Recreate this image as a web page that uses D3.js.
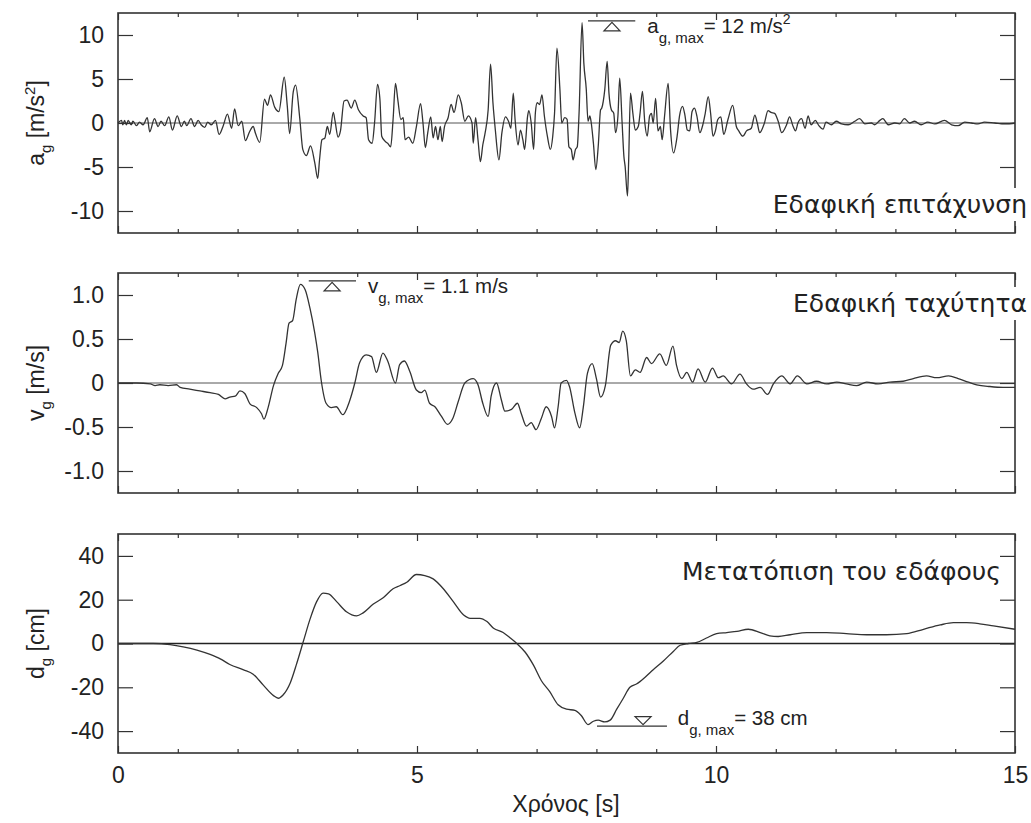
<!DOCTYPE html>
<html>
<head>
<meta charset="utf-8">
<script src="https://cdn.jsdelivr.net/npm/d3@7"></script>
<style>
  body { margin: 0; background: #fff; }
  svg { display: block; font-family: "Liberation Sans", Arial, sans-serif; }
</style>
</head>
<body>
<script>
// ground acceleration [s, m/s2]
const accel = [[0,0],[0.06,0.3],[0.08,-0.2],[0.11,0.3],[0.14,-0.2],[0.17,0.3],[0.22,-0.2],[0.25,0.2],[0.31,-0.3],[0.36,0.1],[0.42,-0.2],[0.49,0.6],[0.53,-1.0],[0.61,0.5],[0.67,-0.4],[0.72,0.2],[0.78,-0.3],[0.85,0.7],[0.91,-0.8],[0.99,0.8],[1.06,-0.4],[1.11,0.2],[1.15,-0.3],[1.22,0.5],[1.28,-0.4],[1.34,0.3],[1.39,-0.2],[1.45,-0.5],[1.50,0.1],[1.56,-0.2],[1.63,0.3],[1.69,-1.3],[1.76,-0.3],[1.83,1.0],[1.90,-0.6],[1.95,1.6],[2.01,-0.3],[2.07,0.2],[2.13,-2.0],[2.20,-1.0],[2.26,-0.4],[2.30,-1.2],[2.37,-2.2],[2.45,2.7],[2.50,2.0],[2.55,3.2],[2.62,1.8],[2.69,1.3],[2.78,5.2],[2.83,2.0],[2.87,-1.2],[2.93,3.5],[2.97,4.3],[3.04,0.5],[3.09,-3.0],[3.15,-3.7],[3.22,-2.6],[3.29,-4.5],[3.34,-6.3],[3.37,-4.2],[3.41,-1.9],[3.46,-1.7],[3.50,-0.4],[3.54,-1.3],[3.60,1.2],[3.63,0.2],[3.68,-1.6],[3.72,-0.9],[3.78,2.5],[3.83,2.6],[3.90,1.7],[3.96,2.6],[4.02,1.5],[4.10,0.8],[4.15,0.6],[4.19,-1.9],[4.25,-2.3],[4.29,0],[4.34,4.4],[4.38,2.7],[4.41,-1.5],[4.47,-2.1],[4.51,-2.3],[4.56,-2.7],[4.60,0.4],[4.64,4.5],[4.68,2.6],[4.73,0.4],[4.77,0.6],[4.80,-1.9],[4.86,-1.6],[4.93,-2.3],[4.99,-0.4],[5.06,2.2],[5.10,0],[5.14,-2.8],[5.18,-1.1],[5.23,0.7],[5.27,-1.7],[5.31,-0.4],[5.35,-1.9],[5.39,-0.4],[5.42,-2.1],[5.46,-0.4],[5.52,0.6],[5.57,2.1],[5.62,1.2],[5.69,3.2],[5.74,2.3],[5.80,0.2],[5.86,0.8],[5.92,0],[5.94,-2.3],[5.98,0.6],[6.02,-1.9],[6.06,-4.4],[6.10,-2.5],[6.14,-1.1],[6.19,1.5],[6.23,6.7],[6.27,2.3],[6.31,-0.8],[6.37,-4.2],[6.42,-1.1],[6.48,0.7],[6.53,0.2],[6.57,-0.6],[6.61,3.4],[6.64,0.4],[6.69,-2.5],[6.73,-0.8],[6.77,-1.9],[6.80,-3.0],[6.85,0.8],[6.87,1.4],[6.91,0],[6.95,-3.0],[6.98,1.2],[7.01,2.3],[7.05,2.1],[7.09,3.2],[7.13,0.8],[7.18,-1.5],[7.23,-3.0],[7.27,-1.5],[7.30,1.1],[7.34,8.5],[7.39,3.8],[7.42,0],[7.47,0.6],[7.51,0.4],[7.54,-2.7],[7.58,-3.0],[7.61,-4.2],[7.65,-3.0],[7.68,-2.7],[7.71,1.1],[7.76,11.4],[7.79,6.8],[7.83,3.9],[7.86,0.2],[7.89,0.8],[7.91,0.2],[7.95,-2.3],[7.99,-5.3],[8.03,-2.7],[8.07,1.5],[8.09,1.7],[8.14,3.8],[8.18,7.0],[8.21,3.4],[8.25,1.5],[8.29,1.1],[8.32,-1.1],[8.36,0.8],[8.39,5.1],[8.43,0],[8.46,-3.8],[8.48,-4.9],[8.52,-8.3],[8.54,-4.2],[8.57,3.4],[8.61,1.1],[8.65,-0.8],[8.70,-0.4],[8.73,1.1],[8.77,3.6],[8.81,0],[8.85,-1.5],[8.89,0.8],[8.92,1.1],[8.95,0],[8.99,2.8],[9.03,-0.9],[9.07,-0.4],[9.10,-1.9],[9.14,0.8],[9.20,4.5],[9.24,-0.8],[9.29,-3.4],[9.35,-1.5],[9.39,0.8],[9.44,1.9],[9.48,0.9],[9.52,-0.8],[9.56,-0.9],[9.60,1.3],[9.64,1.7],[9.68,0.8],[9.73,-1.1],[9.78,-0.2],[9.82,1.1],[9.87,3.0],[9.91,1.1],[9.95,-1.5],[9.99,-0.9],[10.03,0.4],[10.08,0.7],[10.13,-1.3],[10.20,0.4],[10.28,2.0],[10.34,-0.4],[10.38,-0.9],[10.45,-1.5],[10.51,-0.9],[10.59,-0.6],[10.65,0.9],[10.69,0],[10.73,-1.1],[10.81,0],[10.87,1.4],[10.92,1.2],[10.98,1.1],[11.04,0.2],[11.10,-1.1],[11.18,-0.2],[11.23,0.7],[11.29,-0.4],[11.33,-0.9],[11.37,0],[11.43,0.5],[11.49,-0.6],[11.54,0.8],[11.59,-0.2],[11.66,0.3],[11.72,-0.3],[11.79,-0.7],[11.84,0.1],[11.93,-0.2],[12.01,0.2],[12.10,-0.1],[12.21,-0.2],[12.32,0.2],[12.40,0.5],[12.49,-0.1],[12.60,0],[12.65,-0.2],[12.74,0.3],[12.79,0.5],[12.88,-0.2],[12.99,0],[13.07,-0.1],[13.15,0.5],[13.24,0],[13.32,0.2],[13.43,-0.2],[13.54,0.1],[13.66,-0.1],[13.82,0.3],[13.94,-0.2],[14.05,-0.3],[14.16,0.1],[14.27,0],[14.38,-0.1],[14.49,0.1],[14.66,0],[14.83,-0.1],[15.0,0]];

// ground velocity [s, m/s]
const veloc = [[0,0],[0.31,0],[0.54,-0.01],[0.62,-0.03],[0.70,-0.02],[0.84,-0.03],[0.98,-0.02],[1.04,-0.05],[1.20,-0.07],[1.37,-0.09],[1.54,-0.11],[1.68,-0.13],[1.79,-0.18],[1.87,-0.16],[1.96,-0.15],[2.04,-0.09],[2.12,-0.12],[2.21,-0.24],[2.32,-0.28],[2.40,-0.35],[2.44,-0.41],[2.51,-0.28],[2.60,-0.03],[2.68,0.11],[2.75,0.2],[2.81,0.45],[2.86,0.68],[2.92,0.71],[2.98,0.95],[3.05,1.12],[3.13,1.06],[3.21,0.85],[3.29,0.57],[3.34,0.35],[3.40,0.02],[3.48,-0.23],[3.57,-0.28],[3.65,-0.27],[3.76,-0.36],[3.87,-0.21],[3.96,0],[4.04,0.23],[4.15,0.32],[4.24,0.3],[4.32,0.12],[4.43,0.34],[4.51,0.25],[4.64,0],[4.71,0.21],[4.79,0.25],[4.88,0.13],[4.99,-0.08],[5.07,-0.11],[5.13,-0.08],[5.21,-0.23],[5.30,-0.27],[5.41,-0.38],[5.51,-0.47],[5.60,-0.4],[5.69,-0.21],[5.80,0],[5.94,0.05],[6.02,-0.02],[6.10,-0.23],[6.19,-0.38],[6.24,-0.15],[6.33,0],[6.41,-0.19],[6.47,-0.32],[6.58,-0.3],[6.68,-0.23],[6.74,-0.34],[6.83,-0.49],[6.91,-0.45],[6.99,-0.53],[7.08,-0.4],[7.16,-0.27],[7.25,-0.38],[7.30,-0.51],[7.36,-0.27],[7.41,0],[7.50,0.03],[7.55,-0.04],[7.64,-0.34],[7.72,-0.51],[7.78,-0.28],[7.85,0.11],[7.93,0.22],[8.00,0.05],[8.07,-0.16],[8.15,-0.03],[8.24,0.43],[8.32,0.48],[8.38,0.46],[8.44,0.59],[8.50,0.48],[8.57,0.08],[8.65,0.15],[8.73,0.12],[8.84,0.29],[8.92,0.22],[9.06,0.33],[9.17,0.2],[9.28,0.42],[9.34,0.2],[9.43,0.05],[9.51,0.12],[9.61,0.01],[9.70,0.16],[9.82,0.01],[9.94,0.17],[10.04,0.06],[10.12,0.08],[10.26,-0.01],[10.40,0.1],[10.51,-0.01],[10.62,-0.07],[10.74,-0.05],[10.86,-0.13],[10.96,-0.01],[11.10,0.08],[11.24,-0.01],[11.36,0.08],[11.52,-0.01],[11.68,0.02],[11.85,-0.01],[12.02,0.01],[12.18,-0.01],[12.35,-0.03],[12.52,0.01],[12.71,-0.01],[12.91,0.01],[13.13,0.02],[13.30,0.05],[13.52,0.08],[13.69,0.06],[13.89,0.08],[14.05,0.05],[14.22,0.01],[14.36,-0.02],[14.58,-0.04],[14.80,-0.05],[15.0,-0.05]];

// ground displacement [s, cm]
const displ = [[0,0],[0.59,0],[0.87,-0.5],[1.09,-1.5],[1.32,-3],[1.54,-5],[1.71,-7],[1.87,-9.6],[2.10,-12],[2.26,-14],[2.43,-19],[2.60,-23.8],[2.68,-25],[2.76,-23.5],[2.88,-18],[2.99,-9],[3.10,1],[3.21,11],[3.32,19],[3.43,23],[3.52,22.7],[3.66,19],[3.82,14.5],[3.99,12.6],[4.10,14],[4.27,18],[4.44,21],[4.60,25],[4.72,26.5],[4.83,28],[4.99,31.5],[5.13,31],[5.27,29.5],[5.44,25],[5.61,19],[5.78,13],[5.89,11.5],[6.05,11.5],[6.17,10],[6.28,7],[6.44,5],[6.56,2.5],[6.67,0],[6.81,-4],[6.95,-10],[7.08,-17],[7.22,-22],[7.36,-28],[7.50,-30],[7.64,-30.5],[7.75,-33],[7.86,-37],[7.95,-35.5],[8.03,-35],[8.14,-35.8],[8.23,-35],[8.34,-30],[8.45,-25],[8.56,-20],[8.67,-18.5],[8.81,-15.5],[8.95,-12],[9.12,-8],[9.29,-3.5],[9.40,-0.8],[9.54,0],[9.68,0.5],[9.84,2.5],[10.01,4.5],[10.18,5],[10.35,5.5],[10.54,6.5],[10.74,5],[10.90,3.5],[11.04,3.2],[11.24,4],[11.52,5],[11.85,5],[12.18,4.5],[12.52,4],[12.85,4],[13.19,4.5],[13.47,6.5],[13.75,8.5],[13.97,9.5],[14.19,9.5],[14.41,9],[14.64,8],[15.0,6.5]];

const xTicks = [0, 5, 10, 15];
const accTicks = [-10, -5, 0, 5, 10];
const velTicks = [-1, -0.5, 0, 0.5, 1];
const dispTicks = [-40, -20, 0, 20, 40];

const W = 1031, H = 823;
const LEFT = 118, RIGHT = 1015;
const ink = '#333';

const svg = d3.select('body').append('svg')
    .attr('width', W)
    .attr('height', H);

const x = d3.scaleLinear([0, 15], [LEFT, RIGHT]);

const panels = [
    { data: accel, top: 13, bottom: 233, lim: 12.5, ticks: accTicks, fmt: d => String(d),
      sym: 'a', unit: ' [m/s', sup: '2', title: 'Εδαφική επιτάχυνση', titleY: 213,
      peak: { t0: 7.86, t1: 8.65, v: 11.6, tri: 8.26, up: true, tx: 8.85, val: '= 12 m/s', sup: '2' } },
    { data: veloc, top: 273, bottom: 493, lim: 1.25, ticks: velTicks, fmt: d => d === 0 ? '0' : d.toFixed(1),
      sym: 'v', unit: ' [m/s]', sup: null, title: 'Εδαφική ταχύτητα', titleY: 312,
      peak: { t0: 3.19, t1: 3.98, v: 1.16, tri: 3.58, up: true, tx: 4.18, val: '= 1.1 m/s', sup: null } },
    { data: displ, top: 534, bottom: 753, lim: 50, ticks: dispTicks, fmt: d => String(d),
      sym: 'd', unit: ' [cm]', sup: null, title: 'Μετατόπιση του εδάφους', titleY: 580, inside: true,
      peak: { t0: 8.01, t1: 9.18, v: -37.7, tri: 8.78, up: false, tx: 9.36, val: '= 38 cm', sup: null } }
];

panels.forEach((p, i) => {
    const y = d3.scaleLinear([-p.lim, p.lim], [p.bottom, p.top]);
    const g = svg.append('g');

    // zero line
    g.append('line')
        .attr('x1', LEFT).attr('x2', RIGHT)
        .attr('y1', y(0)).attr('y2', y(0))
        .attr('stroke', i === 2 ? '#222' : '#555')
        .attr('stroke-width', i === 2 ? 1.4 : 1);

    // record
    g.append('path')
        .datum(p.data)
        .attr('fill', 'none')
        .attr('stroke', ink)
        .attr('stroke-width', 1.3)
        .attr('stroke-linejoin', 'round')
        .attr('d', d3.line().x(d => x(d[0])).y(d => y(d[1])).curve(d3.curveMonotoneX));

    // axes, ticks pointing inwards
    const yl = g.append('g').attr('transform', `translate(${LEFT},0)`)
        .call(d3.axisLeft(y).tickValues(p.ticks).tickFormat(p.fmt).tickSizeInner(-15).tickSizeOuter(0).tickPadding(14));
    yl.selectAll('text').attr('font-size', 23).attr('font-family', 'Liberation Sans, Arial, sans-serif').attr('fill', '#222');

    g.append('g').attr('transform', `translate(${RIGHT},0)`)
        .call(d3.axisRight(y).tickValues(p.ticks).tickFormat('').tickSizeInner(-15).tickSizeOuter(0));

    const minor = d3.range(0, 16);
    g.append('g').attr('transform', `translate(0,${p.top})`)
        .call(d3.axisTop(x).tickValues(minor).tickFormat('').tickSizeInner(-4).tickSizeOuter(0))
        .selectAll('.tick line').attr('y2', d => d % 5 === 0 ? 7 : 4);

    const xb = g.append('g').attr('transform', `translate(0,${p.bottom})`)
        .call(d3.axisBottom(x).tickValues(minor)
            .tickFormat(d => (i === 2 && xTicks.includes(d)) ? String(d) : '')
            .tickSizeInner(-4).tickSizeOuter(0).tickPadding(14));
    xb.selectAll('.tick line').attr('y2', d => d % 5 === 0 ? -7 : -4);
    xb.selectAll('text').attr('font-size', 23).attr('font-family', 'Liberation Sans, Arial, sans-serif').attr('fill', '#222');

    g.selectAll('.domain').remove();
    g.selectAll('.tick line').attr('stroke', ink).attr('stroke-width', 1.2);

    // frame
    g.append('rect')
        .attr('x', LEFT).attr('y', p.top)
        .attr('width', RIGHT - LEFT).attr('height', p.bottom - p.top)
        .attr('fill', 'none').attr('stroke', ink).attr('stroke-width', 1.6);

    // y axis title
    const yt = g.append('text')
        .attr('transform', `translate(44,${(p.top + p.bottom) / 2}) rotate(-90)`)
        .attr('text-anchor', 'middle')
        .attr('font-size', 23)
        .attr('fill', '#222');
    yt.append('tspan').text(p.sym);
    yt.append('tspan').attr('dy', 7).attr('font-size', 15).text('g');
    yt.append('tspan').attr('dy', -7).text(p.unit);
    if (p.sup) {
        yt.append('tspan').attr('dy', -9).attr('font-size', 15).text(p.sup);
        yt.append('tspan').attr('dy', 9).text(']');
    }

    // panel title, knocking out the frame behind it
    const tt = g.append('text')
        .attr('x', p.inside ? 1001 : 1027).attr('y', p.titleY)
        .attr('text-anchor', 'end')
        .attr('font-family', '"DejaVu Sans", sans-serif')
        .attr('font-size', 25)
        .attr('fill', '#222')
        .text(p.title);
    if (!p.inside) {
        const bb = tt.node().getBBox();
        g.insert('rect', () => tt.node())
            .attr('x', bb.x - 3).attr('y', bb.y - 2)
            .attr('width', bb.width + 6).attr('height', bb.height + 4)
            .attr('fill', '#fff');
    }

    // peak marker
    const pk = p.peak;
    const ly = y(pk.v);
    g.append('line')
        .attr('x1', x(pk.t0)).attr('x2', x(pk.t1))
        .attr('y1', ly).attr('y2', ly)
        .attr('stroke', ink).attr('stroke-width', 1.2);
    const cx = x(pk.tri);
    const tri = pk.up
        ? [[cx, ly + 1.5], [cx - 8, ly + 10], [cx + 8, ly + 10]]
        : [[cx, ly - 1.5], [cx - 8, ly - 9.5], [cx + 8, ly - 9.5]];
    g.append('path')
        .attr('d', d3.line()(tri) + 'Z')
        .attr('fill', 'none').attr('stroke', ink).attr('stroke-width', 1.2);

    const at = g.append('text')
        .attr('x', x(pk.tx))
        .attr('y', ly + (pk.up ? 12 : -1))
        .attr('font-size', 20.5)
        .attr('fill', '#222');
    at.append('tspan').text(p.sym);
    at.append('tspan').attr('dy', 10).attr('font-size', 15).text('g, max');
    at.append('tspan').attr('dy', -10).text(pk.val);
    if (pk.sup) at.append('tspan').attr('dy', -9).attr('font-size', 14).text(pk.sup);
});

// x axis title
svg.append('text')
    .attr('x', 566).attr('y', 812)
    .attr('text-anchor', 'middle')
    .attr('font-size', 23)
    .attr('fill', '#222')
    .text('Χρόνος [s]');
</script>
</body>
</html>
